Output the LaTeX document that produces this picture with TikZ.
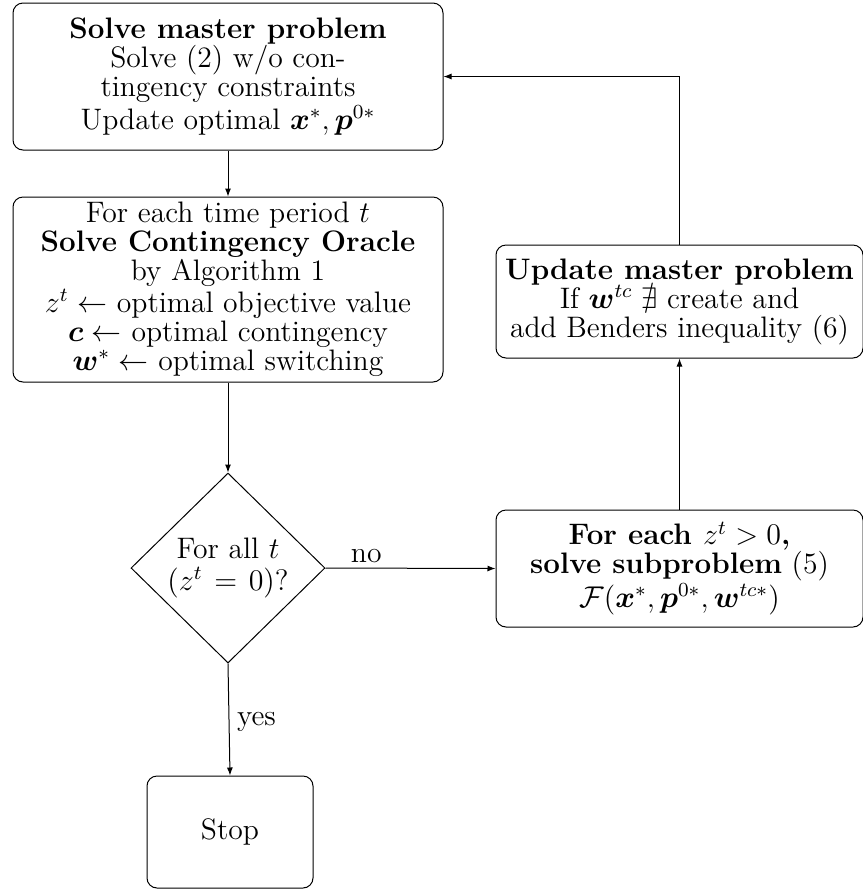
\documentclass[tikz,border=0pt]{standalone}
\usepackage{amsmath,amssymb,bm}
\usetikzlibrary{shapes.geometric,arrows.meta}
\begin{document}
\begin{tikzpicture}[x=1pt,y=1pt,
  font=\fontsize{11.85}{11.6}\selectfont,
  box/.style={draw,rounded corners=4pt,align=center,inner sep=0pt,line width=0.4pt},
  arr/.style={-{Latex[length=3.2pt,width=2.4pt]},line width=0.4pt},
  lbl/.style={inner sep=2pt}]
\useasboundingbox (0,0) rectangle (345.2,-356.8);
\node[box,minimum width=172pt,minimum height=58.8pt] (master) at (91.2,-30.6)
  {\textbf{Solve master problem}\\Solve (2) w/o con-\\tingency constraints\\Update optimal $\bm{x}^*,\bm{p}^{0*}$};
\node[box,minimum width=172pt,minimum height=74pt] (oracle) at (91.2,-115.8)
  {For each time period $t$\\\textbf{Solve Contingency Oracle}\\by Algorithm 1\\$z^t\leftarrow$ optimal objective value\\$\bm{c}\leftarrow$ optimal contingency\\$\bm{w}^*\leftarrow$ optimal switching};
\node[draw,diamond,aspect=1,inner sep=0pt,minimum width=77.6pt,minimum height=76pt,align=center,line width=0.4pt] (check) at (91.2,-227.2)
  {For all $t$\\[1pt]$(z^t\mskip2mu=\mskip2mu0)$?};
\node[box,minimum width=146.8pt,minimum height=46.8pt] (sub) at (271.8,-227.4)
  {\textbf{For each $z^t>0$,}\\\textbf{solve subproblem} (5)\\$\mathcal{F}(\bm{x}^*,\bm{p}^{0*},\bm{w}^{tc*})$};
\node[box,minimum width=146.8pt,minimum height=45.2pt] (update) at (271.8,-120.6)
  {\textbf{Update master problem}\\If $\bm{w}^{tc}\mathrel{\nexists}$ create and\\add Benders inequality (6)};
\node[box,minimum width=66.4pt,minimum height=44.8pt] (stop) at (92,-332.8) {Stop};
\draw[arr] (master.south -| oracle.north) -- (oracle.north);
\draw[arr] (oracle.south) -- (check.north);
\draw[arr] (check.east) -- node[lbl,above,pos=0.24] {no} (sub.west);
\draw[arr] (check.south) -- node[lbl,right,pos=0.52,inner sep=3pt] {yes} (stop.north);
\draw[arr] (sub.north) -- (update.south);
\draw[arr] (update.north) |- (master.east);
\end{tikzpicture}
\end{document}
